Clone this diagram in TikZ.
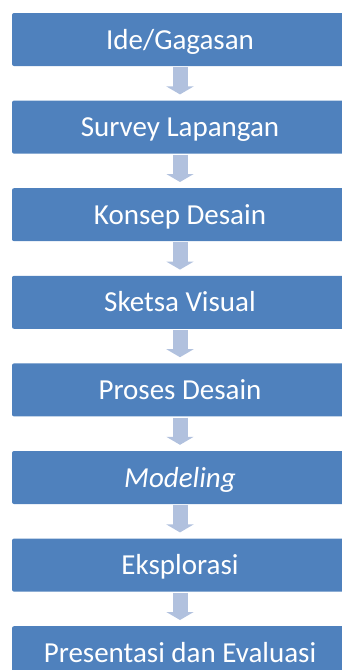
\documentclass[tikz,border=0pt]{standalone}
\usepackage{fontspec}
\setmainfont{Carlito}
\usetikzlibrary{arrows.meta,positioning}

\definecolor{boxblue}{HTML}{4F81BD}
\definecolor{arrowblue}{HTML}{B1C1DE}

\begin{document}
\begin{tikzpicture}[x=1pt,y=1pt,node distance=87.6pt,
                    step box/.style={rectangle,rounded corners=2pt,fill=boxblue,text=white,
                      minimum width=336pt,minimum height=53pt,inner sep=0pt,
                      text height=19pt,text depth=0pt,
                      font=\fontsize{29}{32}\selectfont},
                    flow arrow/.style={arrowblue,line width=15pt,shorten <=1pt,shorten >=6pt,
                      -{Triangle[width=27pt,length=8pt,color=arrowblue,fill=arrowblue]}}]

      \clip (0,0) rectangle (342,-670);

      \node[step box] (ide) at (180,-39.5) {Ide/Gagasan};
      \node[step box] (survey) [below of=ide] {Survey Lapangan};
      \node[step box] (konsep) [below of=survey] {Konsep Desain};
      \node[step box] (sketsa) [below of=konsep] {Sketsa Visual};
      \node[step box] (proses) [below of=sketsa] {Proses Desain};
      \node[step box] (modeling) [below of=proses] {\itshape Modeling};
      \node[step box] (eksplorasi) [below of=modeling] {Eksplorasi};
      \node[step box] (presentasi) [below of=eksplorasi] {Presentasi dan Evaluasi};

      \foreach \a/\b in {ide/survey,survey/konsep,konsep/sketsa,sketsa/proses,
                         proses/modeling,modeling/eksplorasi,eksplorasi/presentasi}
        \draw[flow arrow] (\a) -- (\b);
    \end{tikzpicture}
\end{document}
